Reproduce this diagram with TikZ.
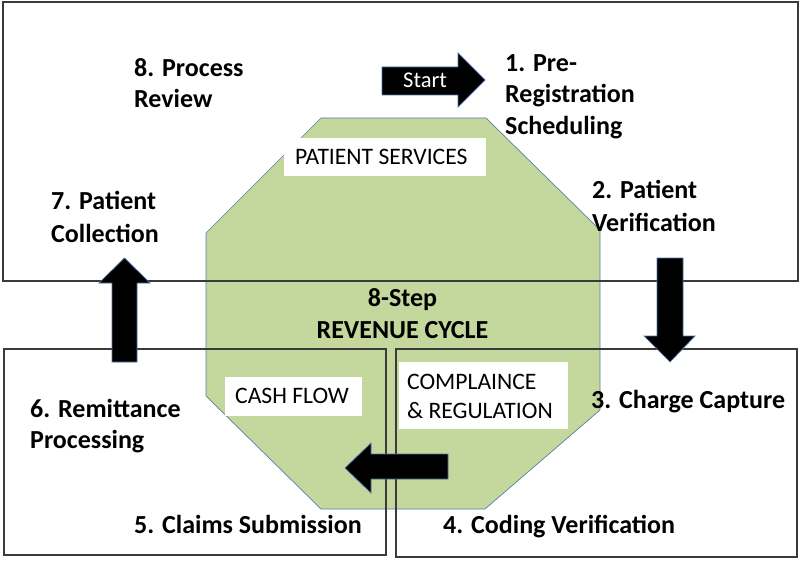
\documentclass[tikz,border=0pt]{standalone}
\usepackage{fontspec}
\setmainfont{Carlito}
\definecolor{octgreen}{HTML}{C4D79C}
\definecolor{octedge}{HTML}{5A7FA8}
\definecolor{framegray}{HTML}{3A3A3A}
\definecolor{arrowedge}{HTML}{4F74A6}
\begin{document}
\begin{tikzpicture}[x=1pt,y=-1pt,
  lbl/.style={font=\fontsize{26}{31}\selectfont\bfseries, anchor=base west, inner sep=0pt, text=black},
  lblc/.style={lbl, anchor=base},
  tag/.style={font=\fontsize{23.6}{28}\selectfont, anchor=base west, inner sep=0pt, text=black},
  frame/.style={draw=framegray, line width=1.1pt},
  blockarrow/.style={fill=black, draw=arrowedge, line width=0.7pt, line join=miter},
  wbox/.style={fill=white}]

\fill[white] (0,0) rectangle (800,564);
\useasboundingbox (0,0) rectangle (800,564);

% central octagon
\filldraw[fill=octgreen, draw=octedge, line width=0.7pt]
  (321,118) -- (486,118) -- (600,230) -- (600,410) -- (485,509)
  -- (321,509) -- (206,396) -- (206,233) -- cycle;

% white label boxes
\fill[wbox] (284,138) rectangle (486,176);
\fill[wbox] (225,377) rectangle (362,416);
\fill[wbox] (399,362) rectangle (568,429);

% frames
\draw[frame] (3,2) rectangle (798,281);
\draw[frame] (4,349) rectangle (386,555);
\draw[frame] (396,349) rectangle (797,557);

% block arrows
\filldraw[blockarrow] (382,67) -- (458,67) -- (458,53) -- (485,80) -- (458,107) -- (458,95) -- (382,95) -- cycle;
\filldraw[blockarrow] (657,258) -- (683,258) -- (683,336) -- (695,336) -- (670,362) -- (644,336) -- (657,336) -- cycle;
\filldraw[blockarrow] (112,362) -- (137,362) -- (137,283) -- (150,283) -- (124.5,258) -- (99,283) -- (112,283) -- cycle;
\filldraw[blockarrow] (448,454) -- (448,479) -- (371,479) -- (371,493) -- (345,468) -- (371,443) -- (371,454) -- cycle;

\node[font=\fontsize{22.5}{26}\selectfont, anchor=base west, inner sep=0pt, text=white] (start) at (403,88) {Start};

% step labels
\node[lbl] (s1a) at (505,72) {1. Pre-};
\node[lbl] (s1b) at (505,103) {Registration};
\node[lbl] (s1c) at (505,135) {Scheduling};
\node[lbl] (s2a) at (592,199) {2. Patient};
\node[lbl] (s2b) at (592,231) {Verification};
\node[lbl] (s3) at (591,408) {3. Charge Capture};
\node[lbl] (s4) at (443,533) {4. Coding Verification};
\node[lbl] (s5) at (134,533) {5. Claims Submission};
\node[lbl] (s6a) at (30,417) {6. Remittance};
\node[lbl] (s6b) at (30,448) {Processing};
\node[lbl] (s7a) at (51,210) {7. Patient};
\node[lbl] (s7b) at (51,242) {Collection};
\node[lbl] (s8a) at (134,77) {8. Process};
\node[lbl] (s8b) at (134,108) {Review};

% centre title
\node[lblc] (ta) at (402.5,306) {8-Step};
\node[lblc] (tb) at (402.5,338) {REVENUE CYCLE};

% inner tags
\node[tag] (ps) at (295,165) {PATIENT SERVICES};
\node[tag] (cf) at (235,403) {CASH FLOW};
\node[tag] (cra) at (407,389) {COMPLAINCE};
\node[tag] (crb) at (407,418) {\& REGULATION};
\end{tikzpicture}
\end{document}
